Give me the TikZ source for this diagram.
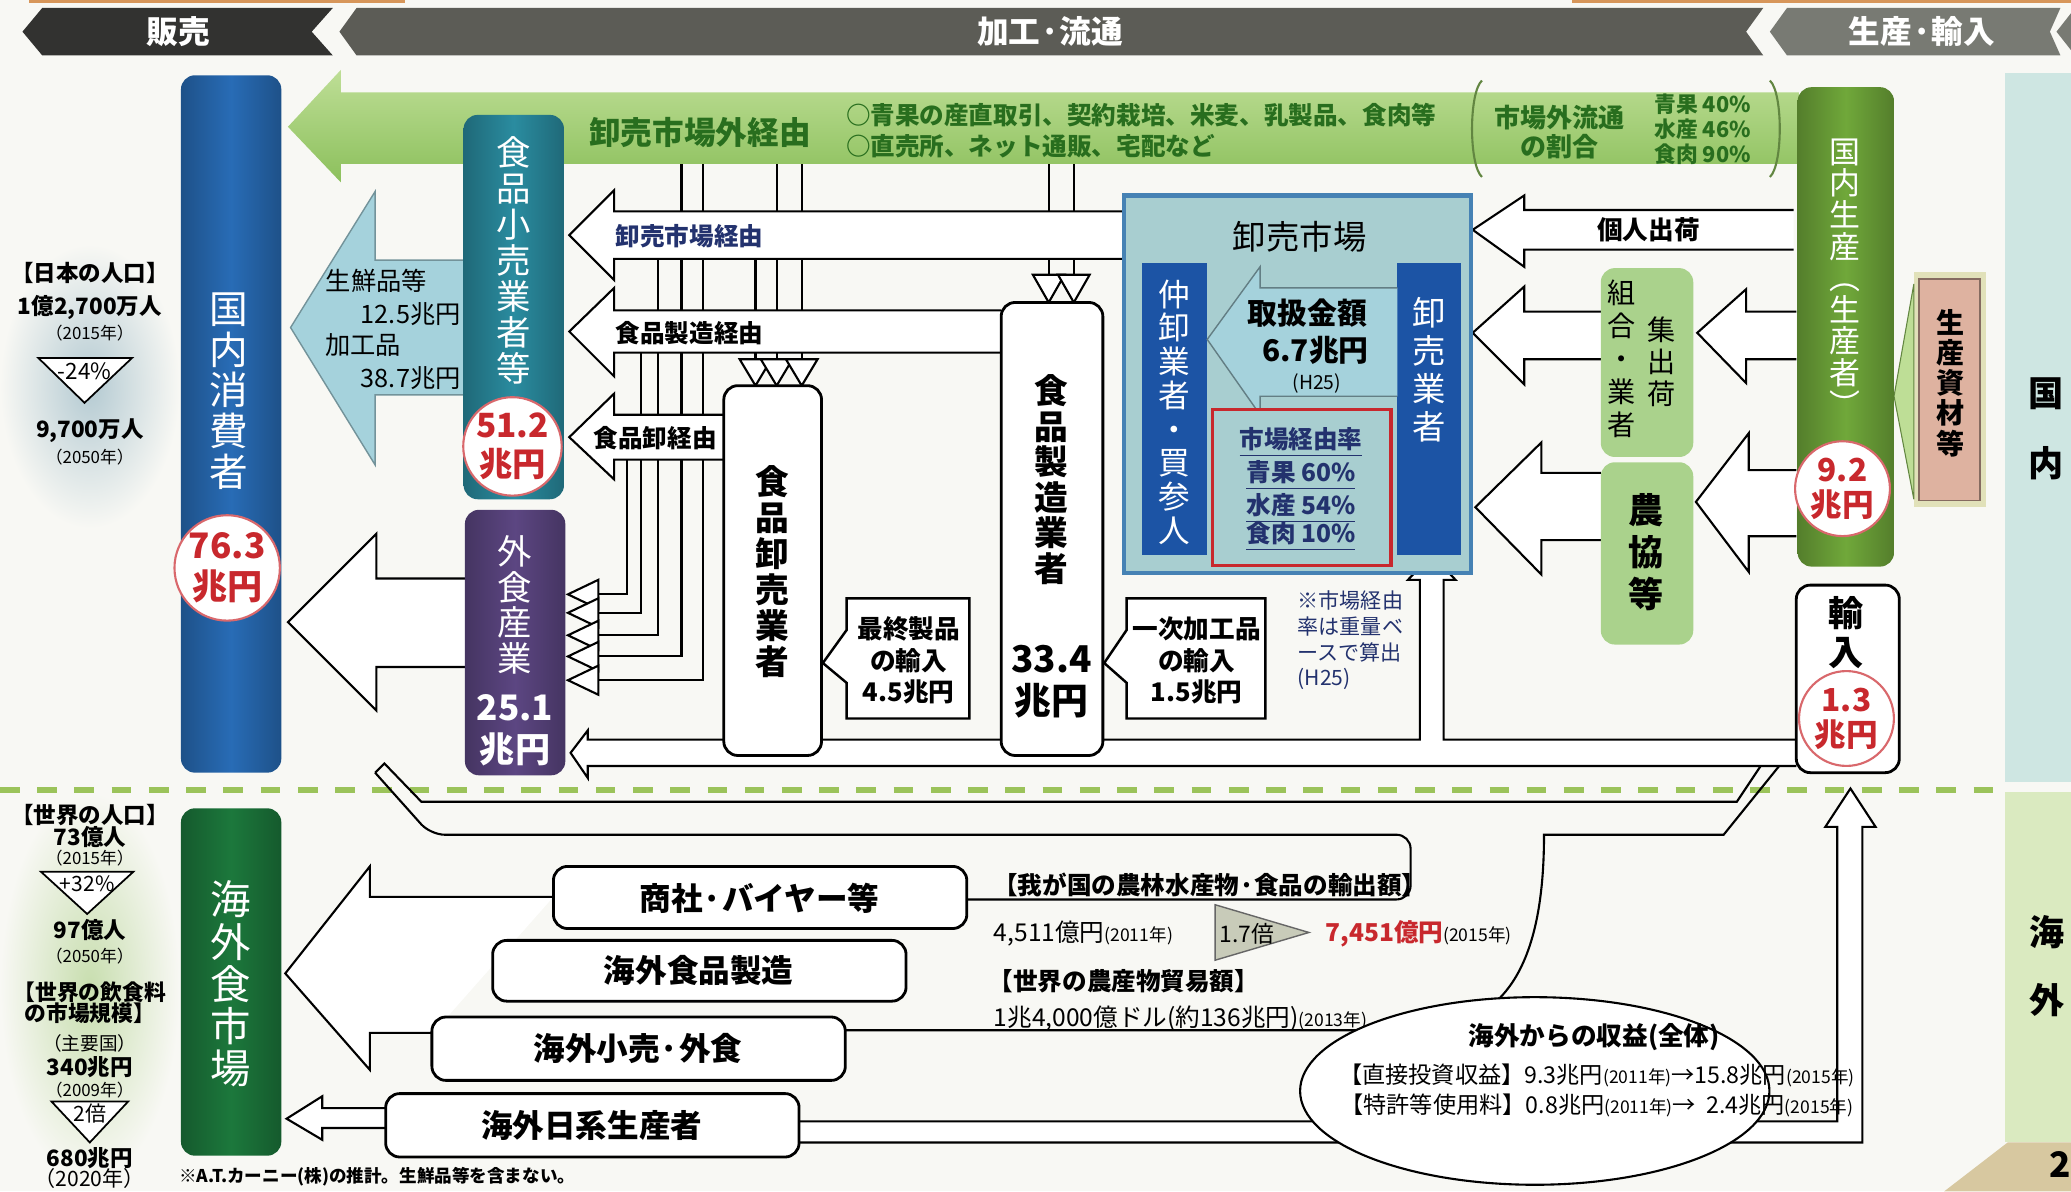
\documentclass[tikz,border=0pt]{standalone}
\usepackage{fontspec}
\setmainfont{Noto Sans CJK JP}
\usetikzlibrary{positioning}
\definecolor{cPaper}{RGB}{248,248,244}
\definecolor{cBlue}{RGB}{40,108,182}
\definecolor{cTeal}{RGB}{42,140,160}
\definecolor{cPurple}{RGB}{92,70,130}
\definecolor{cDGreen}{RGB}{28,120,60}
\definecolor{cGreen}{RGB}{112,168,58}
\definecolor{cLGreen}{RGB}{170,210,140}
\definecolor{cBand}{RGB}{140,192,92}
\definecolor{cBandL}{RGB}{190,222,150}
\definecolor{cGText}{RGB}{40,110,30}
\definecolor{cNavy}{RGB}{35,50,110}
\definecolor{cRed}{RGB}{200,40,45}
\definecolor{cMkt}{RGB}{168,206,208}
\definecolor{cMktEdge}{RGB}{70,130,180}
\definecolor{cDBlue}{RGB}{28,84,165}
\definecolor{cLBlue}{RGB}{165,210,220}
\definecolor{cPink}{RGB}{222,178,160}
\definecolor{cBeige}{RGB}{225,225,185}
\definecolor{cHead}{RGB}{50,50,48}
\definecolor{cHeadM}{RGB}{92,92,86}
\definecolor{cHeadR}{RGB}{120,122,115}
\definecolor{cDash}{RGB}{155,195,90}
\definecolor{cDom}{RGB}{206,230,226}
\definecolor{cOv}{RGB}{218,234,192}
\definecolor{cTan}{RGB}{215,200,160}
\definecolor{cOrange}{RGB}{215,150,90}
\definecolor{cHaloB}{RGB}{180,202,210}
\definecolor{cHaloG}{RGB}{200,222,175}
\definecolor{cTri}{RGB}{200,203,185}
\newcommand{\jfs}[2]{\fontsize{#1}{#2}\selectfont}

\begin{document}
\begin{tikzpicture}[x=0.013208cm, y=-0.013208cm,
  vt/.style={align=center, inner sep=0pt, text=white},
  bt/.style={align=center, inner sep=0pt, text=black},
  wa/.style={draw=black, fill=white, line width=0.6pt},
  pipe/.style={draw=black, line width=0.6pt},
  barc/.style={rounded corners=4pt, left color=#1!75!black, right color=#1!75!black, middle color=#1},
  wbox/.style={draw=black, fill=white, line width=0.8pt, rounded corners=4pt},
  amt/.style={circle, draw=cRed!70, fill=white, line width=0.6pt, inner sep=0pt, text=cRed, align=center, font=\bfseries\jfs{9}{10}},
  lt/.style={inner sep=0pt, align=center, font=\bfseries\jfs{6.4}{7}},
  ly/.style={inner sep=0pt, font=\jfs{4.8}{5}},
  tri/.style={draw=black, fill=white, line width=0.5pt},
  gt/.style={inner sep=0pt, text=cGText, font=\bfseries\jfs{7}{8}, anchor=west}]
\useasboundingbox (0,0) rectangle (1568,902);
\fill[cPaper] (0,0) rectangle (1568,902);
\fill[cDom] (1518,55) rectangle (1568,592);
\fill[cOv] (1518,600) rectangle (1568,865);
\fill[cTan] (1472,902) -- (1520,865) -- (1568,865) -- (1568,902) -- cycle;
\shade[inner color=cHaloB, outer color=cPaper] (0,185) rectangle (136,400);
\shade[inner color=cHaloG, outer color=cPaper] (0,600) rectangle (136,895);
\fill[cOrange] (22,0) rectangle (307,2);
\fill[cOrange] (1190,0) rectangle (1568,2);
\node[font=\bfseries\jfs{10}{11}, inner sep=0pt] (kuni1) at (1549,298) {国};
\node[font=\bfseries\jfs{10}{11}, inner sep=0pt] (kuni2) at (1549,351) {内};
\node[font=\bfseries\jfs{10}{11}, inner sep=0pt] (umi1) at (1550,706) {海};
\node[font=\bfseries\jfs{10}{11}, inner sep=0pt] (umi2) at (1550,757) {外};
\node[font=\bfseries\jfs{10}{11}, inner sep=0pt] (page) at (1560,882) {2};

\fill[cHead] (17,24) -- (32,6) -- (252,6) -- (236,24) -- (252,42) -- (32,42) -- cycle;
\fill[cHeadM] (257,24) -- (270,6) -- (1335,6) -- (1322,24) -- (1335,42) -- (270,42) -- cycle;
\fill[cHeadR] (1340,24) -- (1353,6) -- (1560,6) -- (1552,24) -- (1560,42) -- (1353,42) -- cycle;
\fill[cHeadR] (1557,24) -- (1568,10) -- (1568,38) -- cycle;
\node[font=\bfseries\jfs{9}{10}, text=white] (hanbai) at (135,24) {販売};
\node[font=\bfseries\jfs{9}{10}, text=white] (kakou) at (795,24) {加工·流通};
\node[font=\bfseries\jfs{9}{10}, text=white] (seisan) at (1455,24) {生産·輸入};

\draw[cDash, line width=1.6pt, dash pattern=on 5.6pt off 5pt] (0,598) -- (1518,598);

\foreach \lx/\ly/\ty in {475/348/450, 485/267/464, 498/196/481, 516/124/497, 532/124/515}
  \draw[pipe] (\lx,\ly) |- (453,\ty);
\foreach \ty in {450,464,481,497,515}
  \draw[wa] (453,\ty-11) -- (430,\ty) -- (453,\ty+11) -- cycle;
\foreach \lx/\ly in {572/196, 588/124, 607/124} {
  \draw[pipe] (\lx,\ly) -- (\lx,272);
  \draw[wa] (\lx-12,272) -- (\lx,292) -- (\lx+12,272) -- cycle;
}
\foreach \lx in {794,813} {
  \draw[pipe] (\lx,124) -- (\lx,208);
  \draw[wa] (\lx-12,208) -- (\lx,229) -- (\lx+12,208) -- cycle;
}

\shade[top color=cBandL, bottom color=cBand] (1362,70) -- (258,70) -- (258,53) -- (218,96) -- (258,138) -- (258,124) -- (1362,124) -- cycle;
\draw[cBand!70!black, line width=0.6pt] (1122,61) .. controls (1112,70) and (1112,125) .. (1122,134);
\draw[cBand!70!black, line width=0.6pt] (1340,61) .. controls (1350,70) and (1350,125) .. (1340,134);
\node[gt, anchor=center, font=\bfseries\jfs{9}{10}] (gaikeiyu) at (530,100) {卸売市場外経由};
\node[gt] (gline1) at (640,87) {○青果の産直取引、契約栽培、米麦、乳製品、食肉等};
\node[gt] (gline2) at (640,111) {○直売所、ネット通販、宅配など};
\node[gt, anchor=center, align=center, font=\bfseries\jfs{7.4}{8}] (gwari) at (1181,100) {市場外流通\\の割合};
\node[gt, anchor=center, align=left, font=\bfseries\jfs{6.2}{7.1}] (gpct) at (1289,98) {青果 40\%\\水産 46\%\\食肉 90\%};

\draw[fill=cLBlue, draw=cLBlue!70!black, line width=0.4pt] (351,197) -- (284,197) -- (284,145) -- (220,248) -- (284,352) -- (284,299) -- (351,299);
\node[font=\jfs{7.2}{8}, inner sep=0pt] (sen1) at (285,213) {生鮮品等};
\node[font=\jfs{7.2}{8}, inner sep=0pt] (sen2) at (311,238) {12.5兆円};
\node[font=\jfs{7.2}{8}, inner sep=0pt] (sen3) at (275,261) {加工品};
\node[font=\jfs{7.2}{8}, inner sep=0pt] (sen4) at (311,286) {38.7兆円};

\draw[wa] (851,160) -- (465,160) -- (465,144) -- (431,178) -- (465,212) -- (465,196) -- (851,196);
\draw[wa] (758,235) -- (465,235) -- (465,218) -- (431,251) -- (465,285) -- (465,267) -- (758,267);
\draw[wa] (548,314) -- (465,314) -- (465,298) -- (431,331) -- (465,363) -- (465,348) -- (548,348);
\node[font=\bfseries\jfs{7}{8}, text=cNavy, inner sep=0pt] (viamkt) at (522,179) {卸売市場経由};
\node[font=\bfseries\jfs{7}{8}, inner sep=0pt] (viamfg) at (522,252) {食品製造経由};
\node[font=\bfseries\jfs{7}{8}, inner sep=0pt] (viawhl) at (496,332) {食品卸経由};

\draw[wa] (352,438) -- (285,438) -- (285,404) -- (218,471) -- (285,538) -- (285,505) -- (352,505);
\draw[wa] (1360,560) -- (1093,560) -- (1093,439) -- (1102,439) -- (1084,420) -- (1066,439) -- (1075,439) -- (1075,560) -- (445,560) -- (445,553) -- (432,570) -- (445,589) -- (445,580) -- (1360,580);

\draw[wa] (1358,159) -- (1154,159) -- (1154,148) -- (1115,174) -- (1154,202) -- (1154,189) -- (1358,189);
\draw[wa] (1212,236) -- (1154,236) -- (1154,217) -- (1115,252) -- (1154,291) -- (1154,272) -- (1212,272);
\draw[wa] (1360,236) -- (1322,236) -- (1322,219) -- (1285,252) -- (1322,290) -- (1322,272) -- (1360,272);
\draw[wa] (1212,358) -- (1167,358) -- (1167,335) -- (1117,384) -- (1167,435) -- (1167,409) -- (1212,409);
\draw[wa] (1360,356) -- (1324,356) -- (1324,328) -- (1284,380) -- (1324,433) -- (1324,406) -- (1360,406);
\node[font=\bfseries\jfs{7.3}{8}, inner sep=0pt] (kojin) at (1248,174) {個人出荷};

\shade[barc=cBlue] (137,57) rectangle (213,585);
\node[vt, font=\jfs{11}{11.6}] (shohi) at (173,296) {国\\内\\消\\費\\者};
\node[amt, minimum size=30pt, font=\bfseries\jfs{10}{11.5}] (c763) at (172,430) {76.3\\兆円};

\shade[barc=cTeal] (351,87) rectangle (427,378);
\node[vt, font=\jfs{9.8}{10.25}] (kouri) at (389,197) {食\\品\\小\\売\\業\\者\\等};
\node[amt, minimum size=27.5pt, font=\bfseries\jfs{9.5}{11}] (c512) at (388,338) {51.2\\兆円};

\shade[barc=cPurple] (352,386) rectangle (428,587);
\node[vt, font=\jfs{9.8}{10.1}] (gaishoku) at (390,458) {外\\食\\産\\業};
\node[vt, font=\bfseries\jfs{10}{12}] (g251) at (390,553) {25.1\\兆円};

\shade[barc=cDGreen] (137,612) rectangle (213,875);
\node[vt, font=\jfs{11.5}{12}] (kaigai) at (175,745) {海\\外\\食\\市\\場};

\draw[wbox] (548,292) rectangle (622,572);
\node[bt, font=\bfseries\jfs{9.6}{10.25}] (oroshi) at (585,433) {食\\品\\卸\\売\\業\\者};
\draw[wbox] (758,229) rectangle (835,572);
\node[bt, font=\bfseries\jfs{9.6}{10.1}] (seizou) at (796,363) {食\\品\\製\\造\\業\\者};
\node[bt, font=\bfseries\jfs{10.5}{12}] (s334) at (796,516) {33.4\\兆円};

\draw[draw=black, fill=white, line width=0.7pt] (641,453) -- (734,453) -- (734,544) -- (641,544) -- (641,517) -- (623,502) -- (641,477) -- cycle;
\node[bt, font=\bfseries\jfs{7.3}{9}] (saishu) at (688,500) {最終製品\\の輸入\\4.5兆円};
\draw[draw=black, fill=white, line width=0.7pt] (853,453) -- (958,453) -- (958,544) -- (853,544) -- (853,517) -- (836,502) -- (853,477) -- cycle;
\node[bt, font=\bfseries\jfs{7.3}{9}] (ichiji) at (906,500) {一次加工品\\の輸入\\1.5兆円};

\draw[fill=cMkt, draw=cMktEdge, line width=1.2pt] (851,148) rectangle (1114,434);
\node[bt, font=\jfs{9.5}{10}] (ichiba) at (984,179) {卸売市場};
\fill[cDBlue] (865,199) rectangle (914,420);
\node[vt, font=\jfs{9}{9.6}] (nakaoroshi) at (889,312) {仲\\卸\\業\\者\\・\\買\\参\\人};
\fill[cDBlue] (1058,199) rectangle (1106,420);
\node[vt, font=\jfs{9.5}{10.9}] (oroshigyo) at (1082,280) {卸\\売\\業\\者};
\draw[fill=cLBlue, draw=cLBlue!60!black, line width=0.4pt] (1058,218) -- (954,218) -- (954,202) -- (914,257) -- (954,314) -- (954,300) -- (1058,300);
\node[bt, font=\bfseries\jfs{8.5}{9}] (toriatsukai) at (990,237) {取扱金額};
\node[bt, font=\bfseries\jfs{8.5}{9}] (t67) at (996,265) {6.7兆円};
\node[bt, font=\jfs{5.5}{6}] (th25) at (997,290) {(H25)};
\draw[draw=cRed, line width=1pt, fill=cMkt] (918,310) rectangle (1053,428);
\node[bt, text=cNavy, font=\bfseries\jfs{7}{8}] (ritsu) at (985,335) {\underline{市場経由率}};
\node[bt, text=cNavy, font=\bfseries\jfs{7}{8}] (r1) at (985,360) {\underline{青果 60\%}};
\node[bt, text=cNavy, font=\bfseries\jfs{7}{8}] (r2) at (985,385) {\underline{水産 54\%}};
\node[bt, text=cNavy, font=\bfseries\jfs{7}{8}] (r3) at (985,406) {\underline{食肉 10\%}};
\node[anchor=north west, align=left, inner sep=0pt, text=cNavy, font=\jfs{6}{7.3}] (chu) at (982,447) {※市場経由\\率は重量ベ\\ースで算出\\(H25)};

\fill[cBeige] (1449,206) rectangle (1504,384);
\draw[fill=cPink, draw=cPink!60!black, line width=0.5pt] (1453,211) rectangle (1499,379);
\node[bt, font=\bfseries\jfs{8}{8.6}] (shizai) at (1477,290) {生\\産\\資\\材\\等};
\draw[fill=cBandL, draw=cBand!70!black, line width=0.3pt] (1434,300) -- (1449,215) -- (1449,378) -- cycle;
\shade[barc=cGreen] (1361,66) rectangle (1434,429);
\node[vt, font=\jfs{8.8}{9}] (kokunai) at (1397,210) {国\\内\\生\\産\\︵\\生\\産\\者\\︶};
\node[amt, minimum size=27pt] (c92) at (1395,370) {9.2\\兆円};

\fill[cLGreen, rounded corners=4pt] (1212,203) rectangle (1282,346);
\node[bt, font=\jfs{8}{9.4}] (kumiai) at (1228,272) {組\\合\\・\\業\\者};
\node[bt, font=\jfs{8}{9}] (shukka) at (1258,274) {集\\出\\荷};
\fill[cLGreen, rounded corners=4pt] (1212,350) rectangle (1282,488);
\node[bt, font=\bfseries\jfs{10}{12}] (nokyo) at (1246,418) {農\\協\\等};

\draw[wbox] (1360,443) rectangle (1438,585);
\node[bt, font=\bfseries\jfs{10}{11.3}] (yunyu) at (1398,479) {輸\\入};
\node[amt, minimum size=27pt] (c13) at (1398,544) {1.3\\兆円};

\draw[pipe, rounded corners=4pt] (284,585) -- (326,632) -- (1068,632) -- (1068,681) -- (732,681);
\draw[pipe] (284,585) -- (291,578) -- (319,607) -- (1315,607) -- (1333,580);
\draw[pipe] (1347,580) -- (1305,632) -- (1169,632) .. controls (1169,745) and (1130,780) .. (1068,780) -- (640,780);
\draw[wa] (605,849) -- (1391,849) -- (1391,626) -- (1382,626) -- (1401,597) -- (1420,626) -- (1410,626) -- (1410,865) -- (605,865);
\draw[wa] (419,679) -- (280,679) -- (280,656) -- (216,737) -- (280,810) -- (280,782) -- (328,782);
\draw[wa] (292,839) -- (244,839) -- (244,830) -- (217,847) -- (244,863) -- (244,854) -- (292,854);

\draw[wbox] (419,656) rectangle (732,703);
\node[bt, font=\bfseries\jfs{9}{10}] (shosha) at (575,680) {商社·バイヤー等};
\draw[wbox] (373,712) rectangle (686,758);
\node[bt, font=\bfseries\jfs{9}{10}] (kseizou) at (529,735) {海外食品製造};
\draw[wbox] (327,770) rectangle (640,818);
\node[bt, font=\bfseries\jfs{9}{10}] (kkouri) at (483,794) {海外小売·外食};
\draw[wbox] (292,828) rectangle (605,876);
\node[bt, font=\bfseries\jfs{9}{10}] (knikkei) at (448,852) {海外日系生産者};

\node[bt, font=\bfseries\jfs{7}{8}] (yushutsu) at (916,670) {【我が国の農林水産物·食品の輸出額】};
\node[anchor=west, inner sep=0pt, font=\jfs{7}{8}] (y2011) at (752,707) {4,511億円{\jfs{5}{6}(2011年)}};
\draw[fill=cTri, draw=black!60, line width=0.4pt] (920,685) -- (991,706) -- (920,727) -- cycle;
\node[inner sep=0pt, font=\jfs{6.5}{7}] (bai) at (944,707) {1.7倍};
\node[anchor=west, inner sep=0pt, font=\jfs{7}{8}] (y2015) at (1003,707) {\textcolor{cRed}{\bfseries 7,451億円}{\jfs{5}{6}(2015年)}};
\node[anchor=west, inner sep=0pt, font=\bfseries\jfs{7}{8}] (boueki) at (748,743) {【世界の農産物貿易額】};
\node[anchor=west, inner sep=0pt, font=\jfs{7}{8}] (boueki2) at (752,771) {1兆4,000億ドル(約136兆円){\jfs{5}{6}(2013年)}};

\draw[fill=white, line width=0.6pt] (1162,826) ellipse [x radius=66.8pt, y radius=26.7pt];
\node[bt, font=\bfseries\jfs{7.3}{8}] (shueki) at (1207,785) {海外からの収益(全体)};
\node[bt, font=\jfs{6.6}{7}] (toushi) at (1209,814) {【直接投資収益】9.3兆円{\jfs{5}{6}(2011年)}→15.8兆円{\jfs{5}{6}(2015年)}};
\node[bt, font=\jfs{6.6}{7}] (tokkyo) at (1209,837) {【特許等使用料】0.8兆円{\jfs{5}{6}(2011年)}→\ \ 2.4兆円{\jfs{5}{6}(2015年)}};

\node[lt] (jpt) at (68,207) {【日本の人口】};
\node[lt] (jpa) at (68,233) {1億2,700万人};
\node[ly] (jpy1) at (68,252) {（2015年）};
\draw[tri] (29,271) -- (100,271) -- (64,305) -- cycle;
\node[lt, font=\jfs{6.4}{7}] (jpr) at (64,281) {-24\%};
\node[lt] (jpb) at (68,326) {9,700万人};
\node[ly] (jpy2) at (68,346) {（2050年）};

\node[lt] (wpt) at (68,617) {【世界の人口】};
\node[lt] (wpa) at (68,634) {73億人};
\node[ly] (wpy1) at (68,650) {（2015年）};
\draw[tri] (31,660) -- (101,660) -- (66,692) -- cycle;
\node[lt, font=\jfs{6}{7}] (wpr) at (66,669) {+32\%};
\node[lt] (wpb) at (68,704) {97億人};
\node[ly] (wpy2) at (68,724) {（2050年）};
\node[lt, font=\bfseries\jfs{6.2}{6}] (wmt) at (68,759) {【世界の飲食料\\の市場規模】};
\node[ly, font=\jfs{5.3}{6}] (wmy0) at (68,790) {（主要国）};
\node[lt] (wma) at (68,808) {340兆円};
\node[ly] (wmy1) at (68,825) {（2009年）};
\draw[tri] (39,834) -- (97,834) -- (68,865) -- cycle;
\node[lt, font=\jfs{6}{7}] (wmr) at (68,843) {2倍};
\node[lt] (wmb) at (68,877) {680兆円};
\node[ly, font=\jfs{6}{7}] (wmy2) at (68,892) {（2020年）};
\node[anchor=west, inner sep=0pt, font=\bfseries\jfs{5}{6}] (foot) at (135,891) {※A.T.カーニー(株)の推計。生鮮品等を含まない。};
\end{tikzpicture}
\end{document}
